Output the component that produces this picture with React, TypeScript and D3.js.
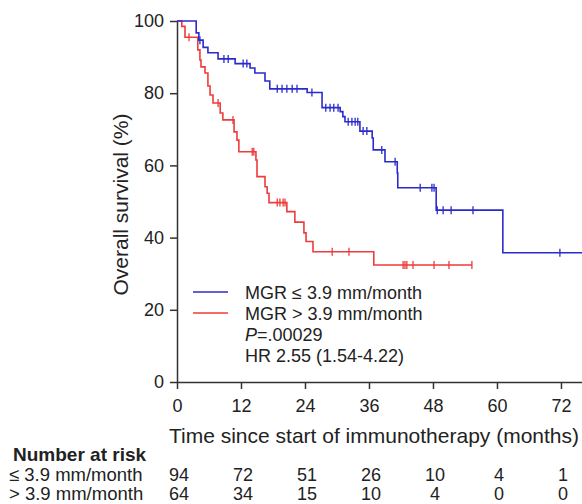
import * as d3 from 'd3';
import { useEffect, useRef } from 'react';

// axis ticks
const timeTicks = [0, 12, 24, 36, 48, 60, 72];
const survivalTicks = [0, 20, 40, 60, 80, 100];

// MGR <= 3.9 mm/month (blue)
const lowTimes = [0, 3.6, 4.1, 4.9, 5.8, 7.7, 10.9, 13.7, 14.6, 16.5, 17.4, 24.4, 27.2, 30.6, 31.1, 31.5, 34.3, 36.6, 36.8, 39.0, 41.3, 41.4, 48.6, 61.1];
const lowSurvival = [100, 96.7, 94.7, 92.7, 91.2, 89.5, 88.2, 87.0, 85.6, 83.4, 81.2, 80.2, 76.0, 74.9, 73.5, 72.1, 69.5, 67.6, 64.3, 61.0, 57.9, 53.8, 47.6, 35.8];
const lowCensored = [4.3, 8.8, 9.6, 12.4, 13.1, 18.8, 19.7, 20.6, 21.6, 22.5, 25.3, 27.9, 28.7, 29.4, 30.2, 32.1, 32.8, 33.4, 33.9, 34.9, 35.6, 38.4, 40.9, 45.6, 47.8, 48.2, 48.8, 49.9, 51.4, 55.5, 71.8];
const lowEnd = 76;

// MGR > 3.9 mm/month (red)
const highTimes = [0, 0.9, 1.5, 3.9, 4.3, 4.5, 5.25, 5.8, 6.2, 6.75, 8.1, 8.6, 10.7, 11.25, 11.6, 14.8, 15.0, 16.5, 16.9, 17.25, 20.6, 22.1, 23.8, 24.2, 25.5, 36.9];
const highSurvival = [100, 98.5, 95.5, 92.0, 89.2, 87.3, 85.6, 82.0, 79.5, 77.3, 74.5, 72.6, 69.3, 67.0, 63.8, 61.5, 56.9, 54.1, 52.3, 49.7, 47.2, 44.3, 41.3, 38.9, 36.1, 32.4];
const highCensored = [2.25, 7.7, 10.5, 14.1, 14.4, 18.8, 19.3, 19.9, 20.25, 29.1, 32.25, 42.4, 42.75, 43.1, 44.25, 48.2, 51.0, 55.3];
const highEnd = 55.3;

// number at risk
const riskLow = [94, 72, 51, 26, 10, 4, 1];
const riskHigh = [64, 34, 15, 10, 4, 0, 0];
const groupLabels = ['≤ 3.9 mm/month', '> 3.9 mm/month'];
const legendLabels = ['MGR ≤ 3.9 mm/month', 'MGR > 3.9 mm/month'];

const BLUE = '#2b2bcc';
const RED = '#ee3b3b';
const FONT = "'Liberation Sans', Arial, Helvetica, sans-serif";

function App() {
    const ref = useRef(null);

    useEffect(() => {
        drawChart();
    }, []);

    const drawChart = () => {
        const svg = d3.select(ref.current);
        svg.selectAll('*').remove();

        const x = d3.scaleLinear().domain([0, 76]).range([177, 582.3]);
        const y = d3.scaleLinear().domain([0, 100]).range([382, 21]);

        // y axis
        const yAxis = svg.append('g')
            .attr('transform', `translate(${x(0)},0)`)
            .call(d3.axisLeft(y).tickValues(survivalTicks).tickSize(7).tickSizeOuter(0).tickPadding(6));
        // x axis
        const xAxis = svg.append('g')
            .attr('transform', `translate(0,${y(0)})`)
            .call(d3.axisBottom(x).tickValues(timeTicks).tickSize(7).tickSizeOuter(0).tickPadding(10));

        [yAxis, xAxis].forEach(g => {
            g.selectAll('path, line').attr('stroke', '#333').attr('stroke-width', 1.5);
            g.selectAll('text').attr('font-size', 18).attr('font-family', FONT).attr('fill', '#222');
        });

        const groups = [
            { times: lowTimes, surv: lowSurvival, cens: lowCensored, end: lowEnd, color: BLUE },
            { times: highTimes, surv: highSurvival, cens: highCensored, end: highEnd, color: RED },
        ];

        const line = d3.line()
            .x(d => x(d[0]))
            .y(d => y(d[1]))
            .curve(d3.curveStepAfter);

        // red drawn first so blue stays on top, like the reference
        groups.slice().reverse().forEach(g => {
            const pts = g.times.map((t, i) => [t, g.surv[i]]);
            pts.push([g.end, g.surv[g.surv.length - 1]]);
            svg.append('path')
                .attr('d', line(pts))
                .attr('fill', 'none')
                .attr('stroke', g.color)
                .attr('stroke-width', 1.6);

            const survAt = t => g.surv[d3.bisectRight(g.times, t) - 1];
            svg.append('g')
                .selectAll('line')
                .data(g.cens)
                .join('line')
                .attr('x1', d => x(d))
                .attr('x2', d => x(d))
                .attr('y1', d => y(survAt(d)) - 4)
                .attr('y2', d => y(survAt(d)) + 4)
                .attr('stroke', g.color)
                .attr('stroke-width', 1.3);
        });

        // legend
        const legend = svg.append('g').attr('font-family', FONT).attr('font-size', 18).attr('fill', '#222');
        [BLUE, RED].forEach((c, i) => {
            legend.append('line')
                .attr('x1', 193).attr('x2', 228)
                .attr('y1', 292 + i * 21).attr('y2', 292 + i * 21)
                .attr('stroke', c).attr('stroke-width', 1.6);
            legend.append('text')
                .attr('x', 245).attr('y', 299 + i * 21)
                .text(legendLabels[i]);
        });
        const pText = legend.append('text').attr('x', 245).attr('y', 341);
        pText.append('tspan').attr('font-style', 'italic').text('P');
        pText.append('tspan').text('=.00029');
        legend.append('text').attr('x', 245).attr('y', 362).text('HR 2.55 (1.54-4.22)');

        // axis titles
        svg.append('text')
            .attr('transform', `translate(121,${(y(0) + y(100)) / 2 + 3}) rotate(-90)`)
            .attr('text-anchor', 'middle')
            .attr('dy', '0.35em')
            .attr('font-family', FONT)
            .attr('font-size', 21)
            .attr('fill', '#222')
            .text('Overall survival (%)');

        svg.append('text')
            .attr('x', 374).attr('y', 443)
            .attr('text-anchor', 'middle')
            .attr('font-family', FONT)
            .attr('font-size', 21)
            .attr('fill', '#222')
            .text('Time since start of immunotherapy (months)');

        // number at risk table
        const table = svg.append('g').attr('font-family', FONT).attr('font-size', 18).attr('fill', '#222');
        table.append('text')
            .attr('x', 13).attr('y', 461)
            .attr('font-weight', 'bold')
            .attr('font-size', 19)
            .text('Number at risk');

        [riskLow, riskHigh].forEach((row, i) => {
            const by = 481 + i * 19;
            table.append('text').attr('x', 9).attr('y', by).attr('font-size', 18.5).text(groupLabels[i]);
            table.append('g')
                .selectAll('text')
                .data(row)
                .join('text')
                .attr('x', (d, j) => x(timeTicks[j]) + 2)
                .attr('y', by)
                .attr('text-anchor', 'middle')
                .text(d => d);
        });
    }

    return (
        <svg
            ref={ref}
            width={582}
            height={504}
            style={{ position: 'absolute', left: 0, top: 0, background: '#fff' }}
        />
    );
}

export default App;
